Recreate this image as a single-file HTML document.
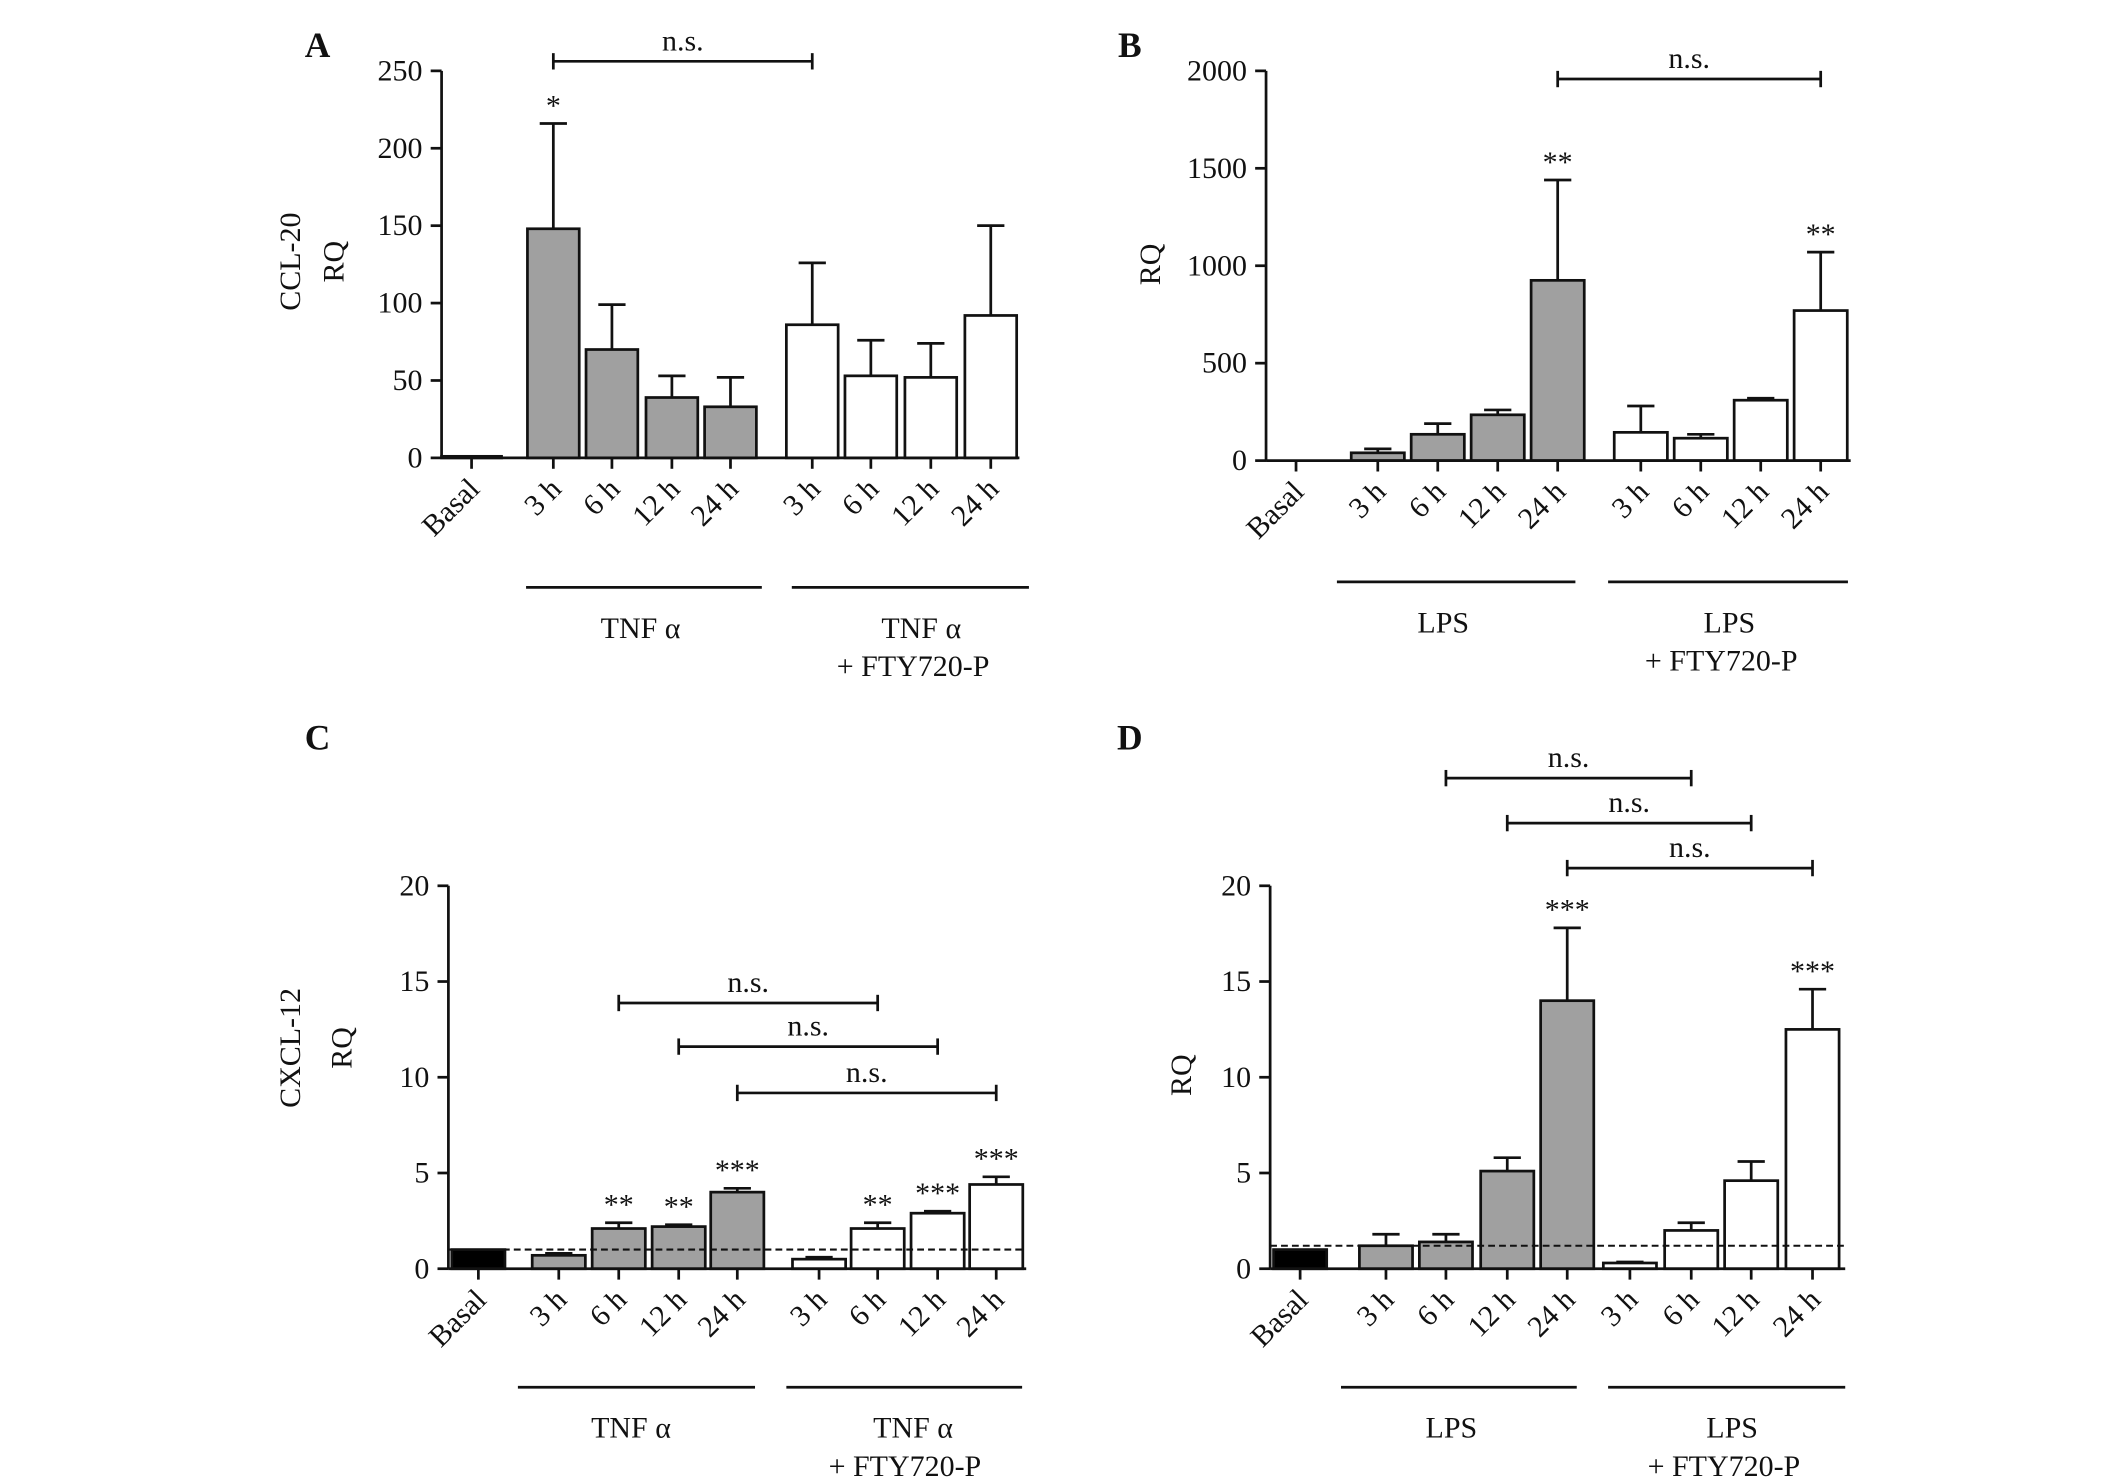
<!DOCTYPE html>
<html><head><meta charset="utf-8"><style>
html,body{margin:0;padding:0;background:#fff}
svg{display:block}
text{font-family:"Liberation Serif",serif;fill:#111}
</style></head><body>
<svg id="chart" width="2126" height="1482" viewBox="0 0 1560 1087.5" xmlns="http://www.w3.org/2000/svg"><g id="root" transform="translate(-2,-1)"></g></svg>
<script>
const categories = ["Basal","3 h","6 h","12 h","24 h","3 h","6 h","12 h","24 h"];
const valuesA = [1,148,70,39,33,86,53,52,92];
const errorsA = [1,216,99,53,52,126,76,74,150];
const starsA = ["","*","","","","","","",""];
const ticksA = [0,50,100,150,200,250];
const valuesB = [0,40,135,235,925,145,115,310,770];
const errorsB = [0,60,190,260,1440,280,135,320,1070];
const starsB = ["","","","","**","","","","**"];
const ticksB = [0,500,1000,1500,2000];
const valuesC = [1,0.7,2.1,2.2,4.0,0.5,2.1,2.9,4.4];
const errorsC = [1,0.8,2.4,2.3,4.2,0.6,2.4,3.0,4.8];
const starsC = ["","","**","**","***","","**","***","***"];
const ticksC = [0,5,10,15,20];
const valuesD = [1,1.2,1.4,5.1,14,0.3,2.0,4.6,12.5];
const errorsD = [1,1.8,1.8,5.8,17.8,0.35,2.4,5.6,14.6];
const starsD = ["","","","","***","","","","***"];
const ticksD = [0,5,10,15,20];

const NS="http://www.w3.org/2000/svg";
const svg=document.getElementById('root');
function mk(tag,attrs,parent,txt){const e=document.createElementNS(NS,tag);for(const k in attrs)e.setAttribute(k,attrs[k]);if(txt!==undefined)e.textContent=txt;(parent||svg).appendChild(e);return e;}

const panels=[
 {id:'a',letter:'A',lx:235,ly:43,ax:326,y0:337,ytop:53,max:250,vals:valuesA,errs:errorsA,stars:starsA,ticks:ticksA,
  centers:[348,408,451,495,538,598,641,685,729],bw:38,basalColor:'#a0a0a0',basalW:44,dashed:null,
  ylab:['CCL-20','RQ'],ylx:[222,254],yly:193,axEnd:750,
  brackets:[[1,5,46]],groups:[[388,561,432,['TNF α'],472],[583,757,432,['TNF α','+ FTY720-P'],678]]},
 {id:'b',letter:'B',lx:831,ly:43,ax:931,y0:339,ytop:53,max:2000,vals:valuesB,errs:errorsB,stars:starsB,ticks:ticksB,
  centers:[953,1013,1057,1101,1145,1206,1250,1294,1338],bw:39,basalColor:'#000',basalW:39,dashed:null,
  ylab:['RQ'],ylx:[853],yly:195,axEnd:1360,
  brackets:[[4,8,59]],groups:[[983,1158,428,['LPS'],1061],[1182,1358,428,['LPS','+ FTY720-P'],1271]]},
 {id:'c',letter:'C',lx:235,ly:551,ax:331,y0:932,ytop:651,max:20,vals:valuesC,errs:errorsC,stars:starsC,ticks:ticksC,
  centers:[353,412,456,500,543,603,646,690,733],bw:39,basalColor:'#000',basalW:39,dashed:1,
  ylab:['CXCL-12','RQ'],ylx:[222,260],yly:770,axEnd:755,
  brackets:[[2,6,737],[3,7,769],[4,8,803]],groups:[[382,556,1019,['TNF α'],465],[579,752,1019,['TNF α','+ FTY720-P'],672]]},
 {id:'d',letter:'D',lx:831,ly:551,ax:934,y0:932,ytop:651,max:20,vals:valuesD,errs:errorsD,stars:starsD,ticks:ticksD,
  centers:[956,1019,1063,1108,1152,1198,1243,1287,1332],bw:39,basalColor:'#000',basalW:39,dashed:1.2,
  ylab:['RQ'],ylx:[876],yly:790,axEnd:1356,
  brackets:[[2,6,572],[3,7,605],[4,8,638]],groups:[[986,1159,1019,['LPS'],1067],[1182,1356,1019,['LPS','+ FTY720-P'],1273]]}
];

panels.forEach(p=>{
 const g=mk('g',{});
 
 
 const y=v=>p.y0-(v/p.max)*(p.y0-p.ytop);
 const L=mk('text',{x:p.lx,y:p.ly,'font-size':26,'font-weight':'bold','text-anchor':'middle'},g,p.letter);
 
 
 const ya=mk('line',{x1:p.ax,y1:p.ytop,x2:p.ax,y2:p.y0,stroke:'#111','stroke-width':2},g);
 
 
 p.ticks.forEach(t=>{
  mk('line',{x1:p.ax-8,y1:y(t),x2:p.ax,y2:y(t),stroke:'#111','stroke-width':2},g);
  const tl=mk('text',{x:p.ax-14,y:y(t)+7,'font-size':22,'text-anchor':'end'},g,t);
  
  
 });
 p.ylab.forEach((s,i)=>{
  const t=mk('text',{x:p.ylx[i],y:p.yly,'font-size':22,'text-anchor':'middle',transform:`rotate(-90 ${p.ylx[i]} ${p.yly})`},g,s);
  
  
 });
 p.vals.forEach((v,i)=>{
  const cx=p.centers[i];
  const w=i===0?p.basalW:p.bw;
  const fill=i===0?p.basalColor:(i<5?'#a0a0a0':'#fff');
  if(p.vals[i]>0 || i>0){
   const ey=y(p.errs[i]);
   if(i>0 && p.errs[i]>v){
    mk('line',{x1:cx,y1:ey,x2:cx,y2:y(v),stroke:'#111','stroke-width':2},g);
    mk('line',{x1:cx-10,y1:ey,x2:cx+10,y2:ey,stroke:'#111','stroke-width':2},g);
   }
   const r=mk('rect',{x:cx-w/2,y:y(v),width:w,height:Math.max(p.y0-y(v),1),fill:fill,stroke:'#111','stroke-width':2},g);
   
   
   if(p.stars[i]){
    const s=mk('text',{x:cx,y:ey-6,'font-size':22,'text-anchor':'middle'},g,p.stars[i]);
    
    
   }
  }
  mk('line',{x1:cx,y1:p.y0,x2:cx,y2:p.y0+8,stroke:'#111','stroke-width':2},g);
  const tx=cx+7, ty=p.y0+24;
  const cl=mk('text',{x:tx,y:ty,'font-size':22,'text-anchor':'end',transform:`rotate(-45 ${tx} ${ty})`},g,categories[i]);
  
  
 });
 const xa=mk('line',{x1:p.ax,y1:p.y0,x2:p.axEnd,y2:p.y0,stroke:'#111','stroke-width':2},g);
 
 
 if(p.dashed!==null){
  const d=mk('line',{x1:p.ax,y1:y(p.dashed),x2:p.axEnd,y2:y(p.dashed),stroke:'#111','stroke-width':1.5,'stroke-dasharray':'5,3'},g);
  
  
 }
 p.brackets.forEach(b=>{
  const x1=p.centers[b[0]],x2=p.centers[b[1]],by=b[2];
  const bg=mk('g',{},g);
  
  
  mk('line',{x1:x1,y1:by,x2:x2,y2:by,stroke:'#111','stroke-width':2},bg);
  mk('line',{x1:x1,y1:by-6,x2:x1,y2:by+6,stroke:'#111','stroke-width':2},bg);
  mk('line',{x1:x2,y1:by-6,x2:x2,y2:by+6,stroke:'#111','stroke-width':2},bg);
  mk('text',{x:(x1+x2)/2,y:by-8,'font-size':22,'text-anchor':'middle'},bg,'n.s.');
 });
 p.groups.forEach(gr=>{
  const gg=mk('g',{},g);
  
  
  mk('line',{x1:gr[0],y1:gr[2],x2:gr[1],y2:gr[2],stroke:'#111','stroke-width':2},gg);
  gr[3].forEach((s,k)=>mk('text',{x:gr[4]-(k?6:0),y:gr[2]+37+k*28,'font-size':22,'text-anchor':'middle'},gg,s));
 });
});
</script>
</body></html>
